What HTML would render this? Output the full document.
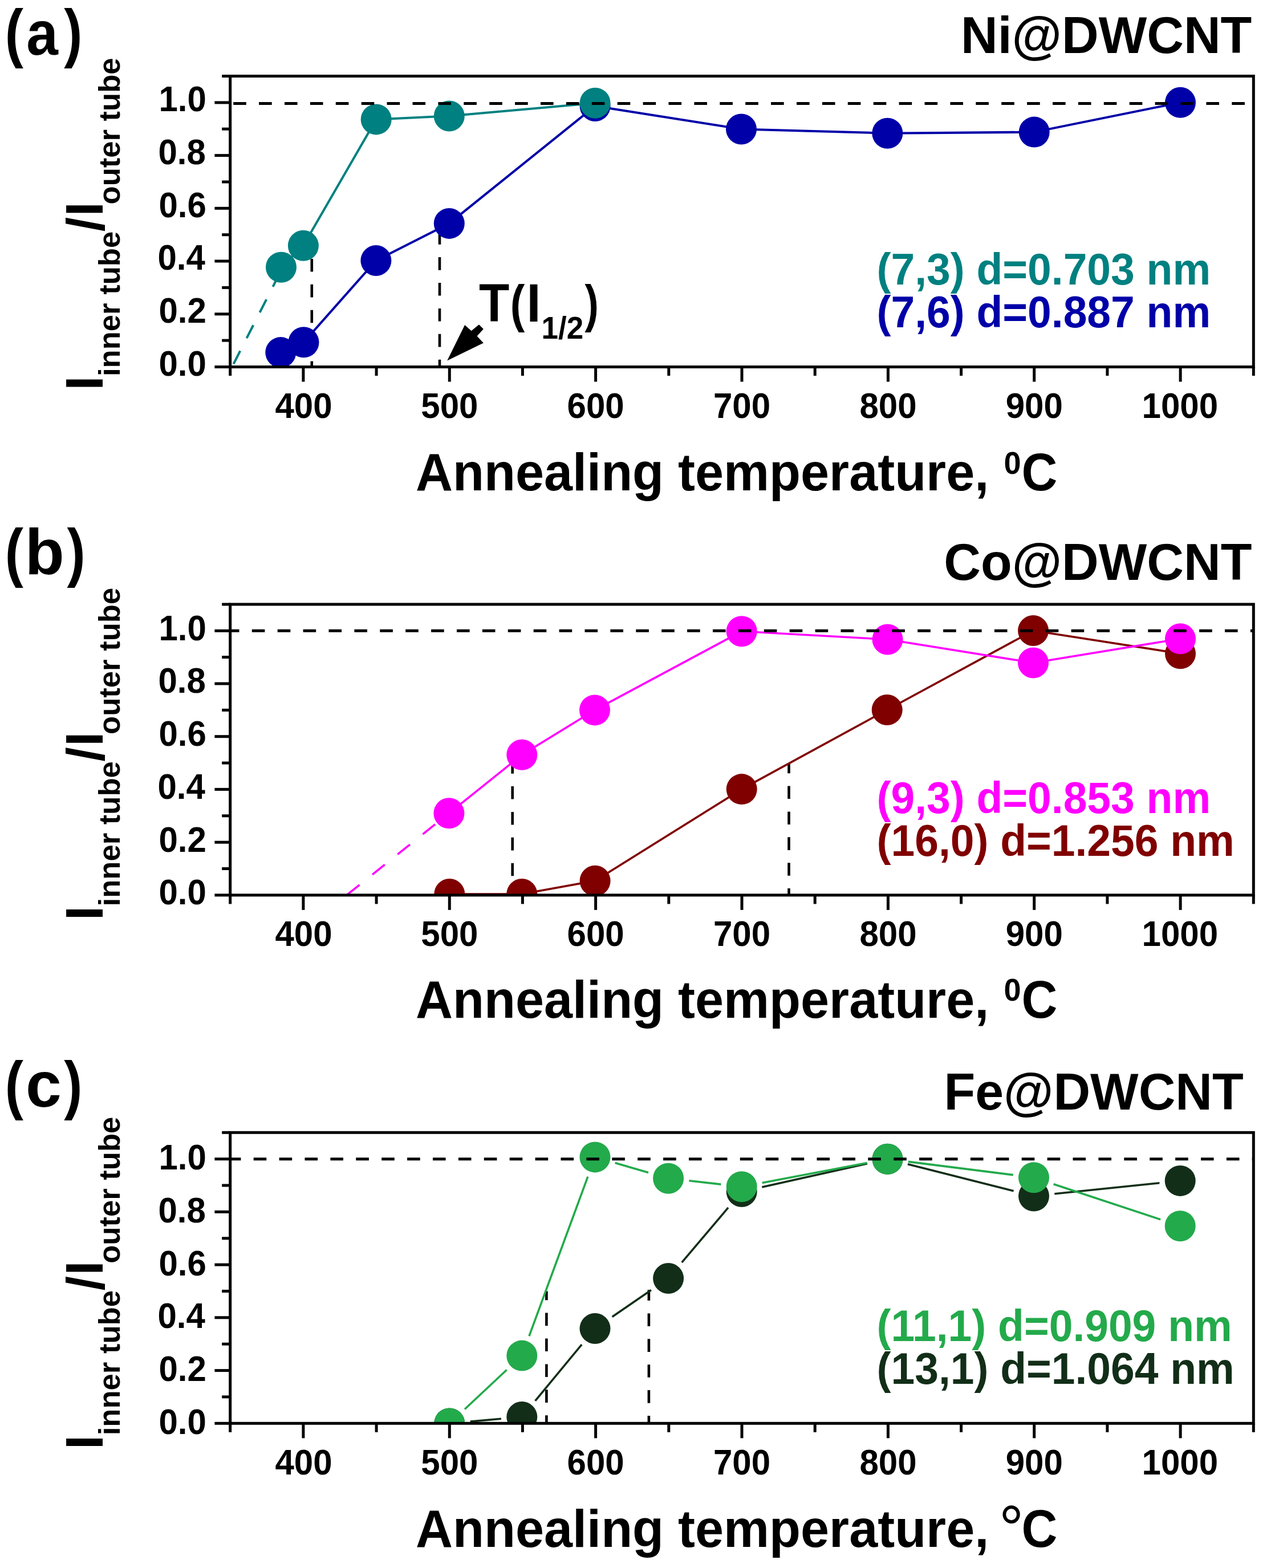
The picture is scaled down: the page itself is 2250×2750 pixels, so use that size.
<!DOCTYPE html><html><head><meta charset="utf-8"><style>html,body{margin:0;padding:0;background:#fff}svg{display:block}</style></head><body><svg width="2250" height="2750" viewBox="0 0 2250 2750" font-family='"Liberation Sans", Arial, sans-serif' font-weight="bold">
<rect width="2250" height="2750" fill="#fff"/>
<clipPath id="clip0"><rect x="403.7" y="133.5" width="1794.6" height="510.0"/></clipPath>
<g clip-path="url(#clip0)">
<line x1="546.8" y1="409.4" x2="546.8" y2="643.5" stroke="#000" stroke-width="4.6" stroke-dasharray="22.6 22.3" stroke-dashoffset="0.4"/>
<line x1="771.0" y1="406.4" x2="771.0" y2="643.5" stroke="#000" stroke-width="4.6" stroke-dasharray="22.6 22.3" stroke-dashoffset="0.2"/>
<polyline points="492.3,618.1 532.5,600.3 659.4,457.0 787.8,391.9 1043.6,186.0 1300.0,226.5 1556.3,233.7 1813.7,231.6 2070.0,179.8" fill="none" stroke="#0000a8" stroke-width="4" stroke-linejoin="round"/>
<circle cx="492.3" cy="618.1" r="27" fill="#0000a8"/>
<circle cx="532.5" cy="600.3" r="27" fill="#0000a8"/>
<circle cx="659.4" cy="457.0" r="27" fill="#0000a8"/>
<circle cx="787.8" cy="391.9" r="27" fill="#0000a8"/>
<circle cx="1043.6" cy="186.0" r="27" fill="#0000a8"/>
<circle cx="1300.0" cy="226.5" r="27" fill="#0000a8"/>
<circle cx="1556.3" cy="233.7" r="27" fill="#0000a8"/>
<circle cx="1813.7" cy="231.6" r="27" fill="#0000a8"/>
<circle cx="2070.0" cy="179.8" r="27" fill="#0000a8"/>
<line x1="490.2" y1="479.9" x2="406.9" y2="643.6" stroke="#008080" stroke-width="4" stroke-dasharray="25.7 25" stroke-dashoffset="0"/>
<polyline points="493.0,468.7 531.9,430.8 659.7,209.4 787.8,203.5 1043.6,180.7" fill="none" stroke="#008080" stroke-width="4" stroke-linejoin="round"/>
<circle cx="493.0" cy="468.7" r="27" fill="#008080"/>
<circle cx="531.9" cy="430.8" r="27" fill="#008080"/>
<circle cx="659.7" cy="209.4" r="27" fill="#008080"/>
<circle cx="787.8" cy="203.5" r="27" fill="#008080"/>
<circle cx="1043.6" cy="180.7" r="27" fill="#008080"/>
</g>
<line x1="403.7" y1="181.4" x2="2198.3" y2="181.4" stroke="#000" stroke-width="5" stroke-dasharray="22.6 22.3" stroke-dashoffset="39.4"/>
<g stroke="#000" stroke-width="5" fill="none">
<rect x="403.7" y="133.5" width="1794.6" height="510.0"/>
<line x1="376.4" y1="643.5" x2="403.7" y2="643.5"/>
<line x1="389.2" y1="597.1" x2="403.7" y2="597.1"/>
<line x1="376.4" y1="550.8" x2="403.7" y2="550.8"/>
<line x1="389.2" y1="504.4" x2="403.7" y2="504.4"/>
<line x1="376.4" y1="458.0" x2="403.7" y2="458.0"/>
<line x1="389.2" y1="411.7" x2="403.7" y2="411.7"/>
<line x1="376.4" y1="365.3" x2="403.7" y2="365.3"/>
<line x1="389.2" y1="319.0" x2="403.7" y2="319.0"/>
<line x1="376.4" y1="272.6" x2="403.7" y2="272.6"/>
<line x1="389.2" y1="226.2" x2="403.7" y2="226.2"/>
<line x1="376.4" y1="179.9" x2="403.7" y2="179.9"/>
<line x1="389.2" y1="133.5" x2="403.7" y2="133.5"/>
<line x1="403.7" y1="643.5" x2="403.7" y2="659.0"/>
<line x1="531.9" y1="643.5" x2="531.9" y2="669.5"/>
<line x1="660.1" y1="643.5" x2="660.1" y2="659.0"/>
<line x1="788.3" y1="643.5" x2="788.3" y2="669.5"/>
<line x1="916.4" y1="643.5" x2="916.4" y2="659.0"/>
<line x1="1044.6" y1="643.5" x2="1044.6" y2="669.5"/>
<line x1="1172.8" y1="643.5" x2="1172.8" y2="659.0"/>
<line x1="1301.0" y1="643.5" x2="1301.0" y2="669.5"/>
<line x1="1429.2" y1="643.5" x2="1429.2" y2="659.0"/>
<line x1="1557.4" y1="643.5" x2="1557.4" y2="669.5"/>
<line x1="1685.6" y1="643.5" x2="1685.6" y2="659.0"/>
<line x1="1813.7" y1="643.5" x2="1813.7" y2="669.5"/>
<line x1="1941.9" y1="643.5" x2="1941.9" y2="659.0"/>
<line x1="2070.1" y1="643.5" x2="2070.1" y2="669.5"/>
<line x1="2198.3" y1="643.5" x2="2198.3" y2="659.0"/>
</g>
<text transform="translate(278.5,658.8) scale(1,1.04)" font-size="60">0.0</text>
<text transform="translate(278.5,566.1) scale(1,1.04)" font-size="60">0.2</text>
<text transform="translate(276.5,473.3) scale(1,1.04)" font-size="60">0.4</text>
<text transform="translate(278.5,380.6) scale(1,1.04)" font-size="60">0.6</text>
<text transform="translate(277.5,287.9) scale(1,1.04)" font-size="60">0.8</text>
<text transform="translate(278.5,195.2) scale(1,1.04)" font-size="60">1.0</text>
<text transform="translate(482.4,732.9) scale(1,1.04)" font-size="60">400</text>
<text transform="translate(738.3,732.9) scale(1,1.04)" font-size="60">500</text>
<text transform="translate(994.6,732.9) scale(1,1.04)" font-size="60">600</text>
<text transform="translate(1251.0,732.9) scale(1,1.04)" font-size="60">700</text>
<text transform="translate(1507.4,732.9) scale(1,1.04)" font-size="60">800</text>
<text transform="translate(1763.7,732.9) scale(1,1.04)" font-size="60">900</text>
<text transform="translate(2002.6,732.9) scale(1,1.04)" font-size="60">1000</text>
<text transform="translate(8.7,95.8) scale(0.855,1.0)" font-size="113">(</text>
<text transform="translate(46.3,95.8) scale(0.885,0.97)" font-size="113">a</text>
<text transform="translate(112.3,95.8) scale(0.855,1.0)" font-size="113">)</text>
<text transform="translate(1685.0,92.6) scale(1,1.015)" font-size="89.6">Ni@DWCNT</text>
<text transform="translate(729.1,859.9) scale(1,1.035)" font-size="90">Annealing temperature,</text>
<text transform="translate(1760.4,830.5) scale(1,1.04)" font-size="54">0</text>
<text transform="translate(1791.4,859.9) scale(1,1.07)" font-size="87">C</text>
<text transform="translate(179.8,684.6) rotate(-90) scale(1,1.04)" font-size="90">I</text>
<text transform="translate(210.2,660.0) rotate(-90) scale(1,1.0)" font-size="52.6">inner tube</text>
<text transform="translate(181.5,406.0) rotate(-90) scale(1,1.04)" font-size="90">/</text>
<text transform="translate(179.8,379.3) rotate(-90) scale(1,1.04)" font-size="90">I</text>
<text transform="translate(210.2,358.5) rotate(-90) scale(1,1.0)" font-size="52.6">outer tube</text>
<text transform="translate(1537.5,498.6) scale(1,1.04)" font-size="75" fill="#008080">(7,3) d=0.703 nm</text>
<text transform="translate(1537.5,573.6) scale(1,1.04)" font-size="75" fill="#0000a8">(7,6) d=0.887 nm</text>
<text transform="translate(840.1,564.0) scale(0.97,1.055)" font-size="90">T</text>
<text transform="translate(894.8,563.6) scale(0.854,1.0)" font-size="90">(</text>
<text transform="translate(923.6,564.0) scale(1.0,1.055)" font-size="90">I</text>
<text transform="translate(949.6,594.4) scale(1,1.04)" font-size="53">1/2</text>
<text transform="translate(1025.4,563.6) scale(0.815,1.0)" font-size="90">)</text>
<polygon points="784.2,632.4 815.1,570.1 826.6,580.2 840.0,569.2 847.8,577.0 836.6,589.5 847.8,601.5" fill="#000"/>
<clipPath id="clip1"><rect x="403.7" y="1059.9" width="1794.6" height="510.0"/></clipPath>
<g clip-path="url(#clip1)">
<line x1="898.7" y1="1338.2" x2="898.7" y2="1569.9" stroke="#000" stroke-width="4.6" stroke-dasharray="22.6 22.3" stroke-dashoffset="4.1"/>
<line x1="1383.5" y1="1339.6" x2="1383.5" y2="1569.9" stroke="#000" stroke-width="4.6" stroke-dasharray="22.6 22.3" stroke-dashoffset="6.0"/>
<polyline points="788.3,1568.0 915.3,1568.0 1043.6,1544.8 1300.7,1384.1 1555.7,1245.0 1812.0,1106.0 2070.0,1146.3" fill="none" stroke="#800000" stroke-width="3.6" stroke-linejoin="round"/>
<circle cx="788.3" cy="1568.0" r="27" fill="#800000"/>
<circle cx="915.3" cy="1568.0" r="27" fill="#800000"/>
<circle cx="1043.6" cy="1544.8" r="27" fill="#800000"/>
<circle cx="1300.7" cy="1384.1" r="27" fill="#800000"/>
<circle cx="1555.7" cy="1245.0" r="27" fill="#800000"/>
<circle cx="1812.0" cy="1106.0" r="27" fill="#800000"/>
<circle cx="2070.0" cy="1146.3" r="27" fill="#800000"/>
<line x1="787.4" y1="1426.3" x2="608.8" y2="1569.2" stroke="#ff00ff" stroke-width="3.6" stroke-dasharray="27.8 28.8" stroke-dashoffset="25.5"/>
<polyline points="787.4,1426.3 915.3,1323.8 1043.0,1245.4 1300.7,1107.2 1556.5,1121.5 1812.0,1162.5 2070.0,1120.3" fill="none" stroke="#ff00ff" stroke-width="3.6" stroke-linejoin="round"/>
<circle cx="787.4" cy="1426.3" r="27" fill="#ff00ff"/>
<circle cx="915.3" cy="1323.8" r="27" fill="#ff00ff"/>
<circle cx="1043.0" cy="1245.4" r="27" fill="#ff00ff"/>
<circle cx="1300.7" cy="1107.2" r="27" fill="#ff00ff"/>
<circle cx="1556.5" cy="1121.5" r="27" fill="#ff00ff"/>
<circle cx="1812.0" cy="1162.5" r="27" fill="#ff00ff"/>
<circle cx="2070.0" cy="1120.3" r="27" fill="#ff00ff"/>
</g>
<line x1="403.7" y1="1106.3" x2="2198.3" y2="1106.3" stroke="#000" stroke-width="5" stroke-dasharray="22.6 22.3" stroke-dashoffset="6.8"/>
<g stroke="#000" stroke-width="5" fill="none">
<rect x="403.7" y="1059.9" width="1794.6" height="510.0"/>
<line x1="376.4" y1="1569.9" x2="403.7" y2="1569.9"/>
<line x1="389.2" y1="1523.5" x2="403.7" y2="1523.5"/>
<line x1="376.4" y1="1477.2" x2="403.7" y2="1477.2"/>
<line x1="389.2" y1="1430.8" x2="403.7" y2="1430.8"/>
<line x1="376.4" y1="1384.4" x2="403.7" y2="1384.4"/>
<line x1="389.2" y1="1338.1" x2="403.7" y2="1338.1"/>
<line x1="376.4" y1="1291.7" x2="403.7" y2="1291.7"/>
<line x1="389.2" y1="1245.4" x2="403.7" y2="1245.4"/>
<line x1="376.4" y1="1199.0" x2="403.7" y2="1199.0"/>
<line x1="389.2" y1="1152.6" x2="403.7" y2="1152.6"/>
<line x1="376.4" y1="1106.3" x2="403.7" y2="1106.3"/>
<line x1="389.2" y1="1059.9" x2="403.7" y2="1059.9"/>
<line x1="403.7" y1="1569.9" x2="403.7" y2="1585.4"/>
<line x1="531.9" y1="1569.9" x2="531.9" y2="1595.9"/>
<line x1="660.1" y1="1569.9" x2="660.1" y2="1585.4"/>
<line x1="788.3" y1="1569.9" x2="788.3" y2="1595.9"/>
<line x1="916.4" y1="1569.9" x2="916.4" y2="1585.4"/>
<line x1="1044.6" y1="1569.9" x2="1044.6" y2="1595.9"/>
<line x1="1172.8" y1="1569.9" x2="1172.8" y2="1585.4"/>
<line x1="1301.0" y1="1569.9" x2="1301.0" y2="1595.9"/>
<line x1="1429.2" y1="1569.9" x2="1429.2" y2="1585.4"/>
<line x1="1557.4" y1="1569.9" x2="1557.4" y2="1595.9"/>
<line x1="1685.6" y1="1569.9" x2="1685.6" y2="1585.4"/>
<line x1="1813.7" y1="1569.9" x2="1813.7" y2="1595.9"/>
<line x1="1941.9" y1="1569.9" x2="1941.9" y2="1585.4"/>
<line x1="2070.1" y1="1569.9" x2="2070.1" y2="1595.9"/>
<line x1="2198.3" y1="1569.9" x2="2198.3" y2="1585.4"/>
</g>
<text transform="translate(278.5,1586.2) scale(1,1.04)" font-size="60">0.0</text>
<text transform="translate(278.5,1493.5) scale(1,1.04)" font-size="60">0.2</text>
<text transform="translate(276.5,1400.7) scale(1,1.04)" font-size="60">0.4</text>
<text transform="translate(278.5,1308.0) scale(1,1.04)" font-size="60">0.6</text>
<text transform="translate(277.5,1215.3) scale(1,1.04)" font-size="60">0.8</text>
<text transform="translate(278.5,1122.6) scale(1,1.04)" font-size="60">1.0</text>
<text transform="translate(482.4,1659.3) scale(1,1.04)" font-size="60">400</text>
<text transform="translate(738.3,1659.3) scale(1,1.04)" font-size="60">500</text>
<text transform="translate(994.6,1659.3) scale(1,1.04)" font-size="60">600</text>
<text transform="translate(1251.0,1659.3) scale(1,1.04)" font-size="60">700</text>
<text transform="translate(1507.4,1659.3) scale(1,1.04)" font-size="60">800</text>
<text transform="translate(1763.7,1659.3) scale(1,1.04)" font-size="60">900</text>
<text transform="translate(2002.6,1659.3) scale(1,1.04)" font-size="60">1000</text>
<text transform="translate(8.7,1007.3) scale(0.855,1.0)" font-size="113">(</text>
<text transform="translate(43.7,1007.3) scale(1.0,1.0)" font-size="113">b</text>
<text transform="translate(117.5,1007.3) scale(0.855,1.0)" font-size="113">)</text>
<text transform="translate(1655.2,1017.1) scale(1,1.015)" font-size="89.6">Co@DWCNT</text>
<text transform="translate(729.1,1784.7) scale(1,1.035)" font-size="90">Annealing temperature,</text>
<text transform="translate(1760.4,1754.7) scale(1,1.04)" font-size="54">0</text>
<text transform="translate(1791.4,1784.7) scale(1,1.07)" font-size="87">C</text>
<text transform="translate(179.8,1614.0) rotate(-90) scale(1,1.04)" font-size="90">I</text>
<text transform="translate(210.2,1589.4) rotate(-90) scale(1,1.0)" font-size="52.6">inner tube</text>
<text transform="translate(181.5,1335.4) rotate(-90) scale(1,1.04)" font-size="90">/</text>
<text transform="translate(179.8,1308.7) rotate(-90) scale(1,1.04)" font-size="90">I</text>
<text transform="translate(210.2,1287.9) rotate(-90) scale(1,1.0)" font-size="52.6">outer tube</text>
<text transform="translate(1537.5,1426.4) scale(1,1.04)" font-size="75" fill="#ff00ff">(9,3) d=0.853 nm</text>
<text transform="translate(1537.5,1500.8) scale(1,1.04)" font-size="75" fill="#800000">(16,0) d=1.256 nm</text>
<clipPath id="clip2"><rect x="403.7" y="1986.3" width="1794.6" height="510.0"/></clipPath>
<g clip-path="url(#clip2)">
<line x1="958.4" y1="2264.6" x2="958.4" y2="2496.3" stroke="#000" stroke-width="4.6" stroke-dasharray="22.6 22.3" stroke-dashoffset="6.9"/>
<line x1="1137.9" y1="2262.3" x2="1137.9" y2="2496.3" stroke="#000" stroke-width="4.6" stroke-dasharray="22.6 22.3" stroke-dashoffset="3.8"/>
<line x1="824.7" y1="2493.1" x2="878.9" y2="2488.3" stroke="#122e18" stroke-width="3.6"/>
<line x1="938.6" y1="2456.9" x2="1020.2" y2="2358.1" stroke="#122e18" stroke-width="3.6"/>
<line x1="1073.6" y1="2309.4" x2="1142.0" y2="2262.6" stroke="#122e18" stroke-width="3.6"/>
<line x1="1195.7" y1="2214.1" x2="1277.1" y2="2117.9" stroke="#122e18" stroke-width="3.6"/>
<line x1="1336.3" y1="2082.0" x2="1520.9" y2="2040.8" stroke="#122e18" stroke-width="3.6"/>
<line x1="1591.9" y1="2041.7" x2="1777.6" y2="2088.7" stroke="#122e18" stroke-width="3.6"/>
<line x1="1849.3" y1="2093.8" x2="2033.4" y2="2074.7" stroke="#122e18" stroke-width="3.6"/>
<circle cx="788.3" cy="2496.4" r="27" fill="#122e18"/>
<circle cx="915.3" cy="2485.0" r="27" fill="#122e18"/>
<circle cx="1043.5" cy="2330.0" r="27" fill="#122e18"/>
<circle cx="1172.1" cy="2242.0" r="27" fill="#122e18"/>
<circle cx="1300.7" cy="2090.0" r="27" fill="#122e18"/>
<circle cx="1556.5" cy="2032.8" r="27" fill="#122e18"/>
<circle cx="1813.0" cy="2097.6" r="27" fill="#122e18"/>
<circle cx="2069.7" cy="2070.9" r="27" fill="#122e18"/>
<line x1="815.0" y1="2471.5" x2="888.6" y2="2402.5" stroke="#23aa4b" stroke-width="3.6"/>
<line x1="927.9" y1="2343.3" x2="1030.9" y2="2063.7" stroke="#23aa4b" stroke-width="3.6"/>
<line x1="1078.6" y1="2039.6" x2="1137.0" y2="2056.5" stroke="#23aa4b" stroke-width="3.6"/>
<line x1="1208.4" y1="2070.8" x2="1264.4" y2="2077.1" stroke="#23aa4b" stroke-width="3.6"/>
<line x1="1336.6" y1="2074.4" x2="1520.6" y2="2039.6" stroke="#23aa4b" stroke-width="3.6"/>
<line x1="1592.7" y1="2037.4" x2="1776.8" y2="2060.6" stroke="#23aa4b" stroke-width="3.6"/>
<line x1="1847.6" y1="2076.7" x2="2035.1" y2="2138.7" stroke="#23aa4b" stroke-width="3.6"/>
<circle cx="788.3" cy="2496.4" r="27" fill="#23aa4b"/>
<circle cx="915.3" cy="2377.6" r="27" fill="#23aa4b"/>
<circle cx="1043.5" cy="2029.4" r="27" fill="#23aa4b"/>
<circle cx="1172.1" cy="2066.7" r="27" fill="#23aa4b"/>
<circle cx="1300.7" cy="2081.2" r="27" fill="#23aa4b"/>
<circle cx="1556.5" cy="2032.8" r="27" fill="#23aa4b"/>
<circle cx="1813.0" cy="2065.2" r="27" fill="#23aa4b"/>
<circle cx="2069.7" cy="2150.2" r="27" fill="#23aa4b"/>
</g>
<line x1="403.7" y1="2032.7" x2="2198.3" y2="2032.7" stroke="#000" stroke-width="5" stroke-dasharray="22.6 22.3" stroke-dashoffset="3.9"/>
<g stroke="#000" stroke-width="5" fill="none">
<rect x="403.7" y="1986.3" width="1794.6" height="510.0"/>
<line x1="376.4" y1="2496.3" x2="403.7" y2="2496.3"/>
<line x1="389.2" y1="2449.9" x2="403.7" y2="2449.9"/>
<line x1="376.4" y1="2403.6" x2="403.7" y2="2403.6"/>
<line x1="389.2" y1="2357.2" x2="403.7" y2="2357.2"/>
<line x1="376.4" y1="2310.8" x2="403.7" y2="2310.8"/>
<line x1="389.2" y1="2264.5" x2="403.7" y2="2264.5"/>
<line x1="376.4" y1="2218.1" x2="403.7" y2="2218.1"/>
<line x1="389.2" y1="2171.8" x2="403.7" y2="2171.8"/>
<line x1="376.4" y1="2125.4" x2="403.7" y2="2125.4"/>
<line x1="389.2" y1="2079.0" x2="403.7" y2="2079.0"/>
<line x1="376.4" y1="2032.7" x2="403.7" y2="2032.7"/>
<line x1="389.2" y1="1986.3" x2="403.7" y2="1986.3"/>
<line x1="403.7" y1="2496.3" x2="403.7" y2="2511.8"/>
<line x1="531.9" y1="2496.3" x2="531.9" y2="2522.3"/>
<line x1="660.1" y1="2496.3" x2="660.1" y2="2511.8"/>
<line x1="788.3" y1="2496.3" x2="788.3" y2="2522.3"/>
<line x1="916.4" y1="2496.3" x2="916.4" y2="2511.8"/>
<line x1="1044.6" y1="2496.3" x2="1044.6" y2="2522.3"/>
<line x1="1172.8" y1="2496.3" x2="1172.8" y2="2511.8"/>
<line x1="1301.0" y1="2496.3" x2="1301.0" y2="2522.3"/>
<line x1="1429.2" y1="2496.3" x2="1429.2" y2="2511.8"/>
<line x1="1557.4" y1="2496.3" x2="1557.4" y2="2522.3"/>
<line x1="1685.6" y1="2496.3" x2="1685.6" y2="2511.8"/>
<line x1="1813.7" y1="2496.3" x2="1813.7" y2="2522.3"/>
<line x1="1941.9" y1="2496.3" x2="1941.9" y2="2511.8"/>
<line x1="2070.1" y1="2496.3" x2="2070.1" y2="2522.3"/>
<line x1="2198.3" y1="2496.3" x2="2198.3" y2="2511.8"/>
</g>
<text transform="translate(278.5,2514.9) scale(1,1.04)" font-size="60">0.0</text>
<text transform="translate(278.5,2422.2) scale(1,1.04)" font-size="60">0.2</text>
<text transform="translate(276.5,2329.4) scale(1,1.04)" font-size="60">0.4</text>
<text transform="translate(278.5,2236.7) scale(1,1.04)" font-size="60">0.6</text>
<text transform="translate(277.5,2144.0) scale(1,1.04)" font-size="60">0.8</text>
<text transform="translate(278.5,2051.3) scale(1,1.04)" font-size="60">1.0</text>
<text transform="translate(482.4,2585.7) scale(1,1.04)" font-size="60">400</text>
<text transform="translate(738.3,2585.7) scale(1,1.04)" font-size="60">500</text>
<text transform="translate(994.6,2585.7) scale(1,1.04)" font-size="60">600</text>
<text transform="translate(1251.0,2585.7) scale(1,1.04)" font-size="60">700</text>
<text transform="translate(1507.4,2585.7) scale(1,1.04)" font-size="60">800</text>
<text transform="translate(1763.7,2585.7) scale(1,1.04)" font-size="60">900</text>
<text transform="translate(2002.6,2585.7) scale(1,1.04)" font-size="60">1000</text>
<text transform="translate(8.7,1940.7) scale(0.855,1.0)" font-size="113">(</text>
<text transform="translate(45.0,1940.7) scale(1.0,1.0)" font-size="113">c</text>
<text transform="translate(112.3,1940.7) scale(0.855,1.0)" font-size="113">)</text>
<text transform="translate(1655.5,1946.0) scale(1,1.015)" font-size="89.6">Fe@DWCNT</text>
<text transform="translate(729.1,2712.5) scale(1,1.035)" font-size="90">Annealing temperature,</text>
<text transform="translate(1752.1,2719.8) scale(1,1.04)" font-size="108" font-weight="normal">°</text>
<text transform="translate(1791.4,2712.5) scale(1,1.07)" font-size="87">C</text>
<text transform="translate(179.8,2541.9) rotate(-90) scale(1,1.04)" font-size="90">I</text>
<text transform="translate(210.2,2517.3) rotate(-90) scale(1,1.0)" font-size="52.6">inner tube</text>
<text transform="translate(181.5,2263.3) rotate(-90) scale(1,1.04)" font-size="90">/</text>
<text transform="translate(179.8,2236.6) rotate(-90) scale(1,1.04)" font-size="90">I</text>
<text transform="translate(210.2,2215.8) rotate(-90) scale(1,1.0)" font-size="52.6">outer tube</text>
<text transform="translate(1537.5,2352.3) scale(1,1.04)" font-size="75" fill="#23aa4b">(11,1) d=0.909 nm</text>
<text transform="translate(1537.5,2427.0) scale(1,1.04)" font-size="75" fill="#122e18">(13,1) d=1.064 nm</text></svg></body></html>
